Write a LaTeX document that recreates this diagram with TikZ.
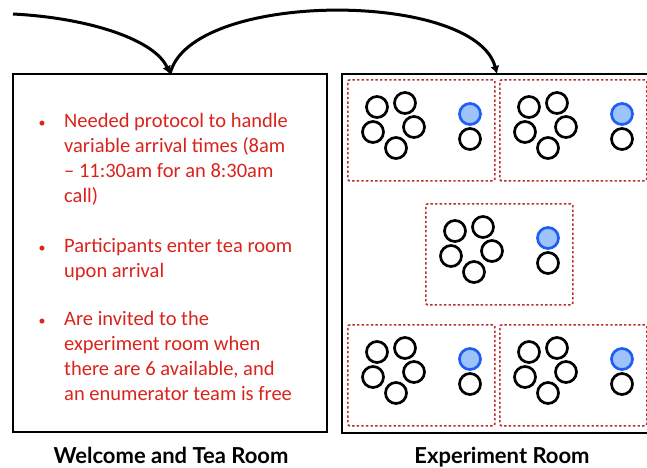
\documentclass[tikz,border=0pt]{standalone}
\usepackage{fontspec}
\setmainfont{Carlito}
\newfontfamily\headfont{Lato}
\usetikzlibrary{arrows.meta,positioning}
\definecolor{notered}{HTML}{D9231C}
\definecolor{teamred}{HTML}{B8312C}
\definecolor{seatblue}{HTML}{1E5EF5}
\definecolor{seatfill}{HTML}{9DC3FA}
\newcommand\notelines[1]{\begin{tabular}[t]{@{}l@{}}#1\end{tabular}}
\tikzset{>={Latex[length=8pt,width=9pt]}}
\tikzset{
  room/.style={draw, line width=2.4pt, inner sep=0pt, outer sep=0pt},
  flow/.style={line width=3pt},
  sessionframe/.style={draw=teamred, line width=1.7pt, dash pattern=on 2.4pt off 2.2pt,
    rounded corners=2pt, minimum width=147, minimum height=101, anchor=north west, inner sep=0pt},
  member/.style={circle, draw, line width=2.7pt, minimum size=21, inner sep=0pt},
  enumerator/.style={member, draw=seatblue, fill=seatfill},
  note/.style={text=notered, font=\fontsize{20.5}{25}\selectfont, anchor=base west, inner sep=0pt},
  bulletmark/.style={text=notered, font=\fontsize{14}{14}\selectfont, anchor=base, inner sep=0pt},
  roomname/.style={font=\headfont\bfseries\fontsize{22}{22}\selectfont, anchor=base, inner sep=0pt},
  session/.pic={
    \node[sessionframe] (-frame) at (0,0) {};
    \node[member] (-m1) at (30,28) {};
    \node[member] (-m2) at (58,24) {};
    \node[member] (-m3) at (26,53) {};
    \node[member] (-m4) at (67,48) {};
    \node[member] (-m5) at (49,69) {};
    \node[enumerator] (-e1) at (123,35) {};
    \node[member] (-e2) at (123,60) {};
  }
}

\begin{document}
\begin{tikzpicture}[x=1pt, y=-1pt]
\useasboundingbox (0,0) rectangle (647,467);

\node[room, minimum width=314, minimum height=358] (tearoom) at (170,253) {};
\node[room, minimum width=310, minimum height=359] (exproom) at (497,253.5) {};

% notes in the tea room
\node[bulletmark] (b1) at (42,127) {\textbullet};
\node[note] (n1) at (64,127) {\notelines{Needed protocol to handle\\variable arrival times (8am\\– 11:30am for an 8:30am\\call)}};
\node[bulletmark] (b2) at (42,252) {\textbullet};
\node[note] (n2) at (64,252) {\notelines{Participants enter tea room\\upon arrival}};
\node[bulletmark] (b3) at (42,325) {\textbullet};
\node[note] (n3) at (64,325) {\notelines{Are invited to the\\experiment room when\\there are 6 available, and\\an enumerator team is free}};

% sessions in the experiment room
\pic (s1) at (347,79) {session};
\pic (s2) at (499,79) {session};
\pic (s3) at (425,203) {session};
\pic (s4) at (347,324) {session};
\pic (s5) at (499,324) {session};

\node[roomname] (tealabel) at (171,463) {Welcome and Tea Room};
\node[roomname] (explabel) at (502,463) {Experiment Room};

\coordinate (start) at (13,14);
\draw[flow, ->] (start) .. controls (90,18) and (155,40) .. (tearoom.north);
\draw[flow, ->] (tearoom.north) .. controls (190,-10) and (475,-10) .. (exproom.north);
\end{tikzpicture}
\end{document}
